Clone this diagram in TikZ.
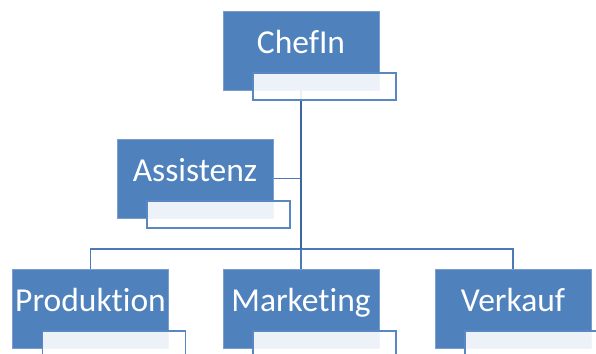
\documentclass[tikz,border=0pt]{standalone}
\usepackage{fontspec}
\setmainfont{Carlito}[Ligatures={NoCommon}]
\usetikzlibrary{calc,backgrounds}
\definecolor{boxblue}{HTML}{4F81BD}
\definecolor{boxedge}{HTML}{7A9FCF}
\definecolor{subedge}{HTML}{5A87C2}
\definecolor{linecol}{HTML}{4A7BB8}
\definecolor{trunkcol}{HTML}{3B66A0}
\tikzset{
  mainbox/.style={draw=boxedge, line width=0.8pt, fill=boxblue, rectangle, anchor=north west,
    minimum width=156pt, minimum height=79pt, inner sep=0pt, outer sep=0pt},
  subbox/.style={draw=subedge, line width=1.2pt, fill=white, fill opacity=0.9, draw opacity=1,
    rectangle, anchor=north west, minimum width=143pt, minimum height=27pt, inner sep=0pt, outer sep=0pt},
  lbl/.style={text=white, font=\fontsize{33.5}{36}\selectfont, anchor=base, inner sep=0pt},
  conn/.style={draw=linecol, line width=1.1pt},
  trunk/.style={draw=trunkcol, line width=1.6pt}
}
\begin{document}
\begin{tikzpicture}[x=1pt,y=1pt]
\useasboundingbox (0,0) rectangle (596,-353);
\clip (0,0) rectangle (596,-353);
\foreach \n/\x/\y/\t in {chef/223/-11/ChefIn, assist/117/-139/Assistenz, prod/12.5/-269/Produktion, mark/223/-269/Marketing, verk/435/-269/Verkauf}{
  \node[mainbox] (\n) at (\x,\y) {};
  \node[lbl] (\n T) at ($(\n.north)+(0,-42)$) {\t};
  \node[subbox] (\n S) at ($(\n.north west)+(30,-62)$) {};
}
\coordinate (bus) at (301,-249);
\begin{scope}[on background layer]
\fill[white] (0,0) rectangle (596,-353);
\draw[conn] (assist.east) -- (assist.east -| chef.south);
\draw[conn] (prod.north) |- (bus) -| (verk.north);
\draw[conn] (mark.north) -- (mark.north |- bus);
\draw[trunk] (chef.south) -- (bus);
\end{scope}
\end{tikzpicture}
\end{document}
